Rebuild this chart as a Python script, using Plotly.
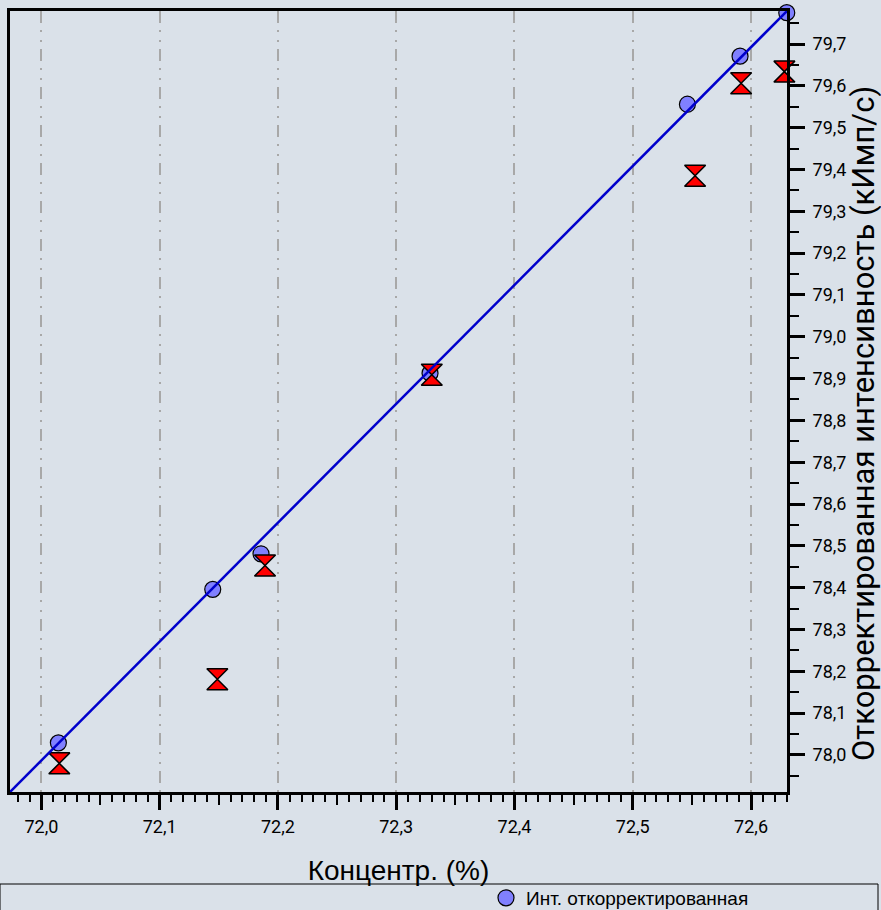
import plotly.graph_objects as go

# ---- data ----
conc_corr = [72.0144, 72.1449, 72.1857, 72.3286, 72.5462, 72.5907, 72.6302]
int_corr = [78.029, 78.396, 78.481, 78.913, 79.556, 79.671, 79.775]

conc_meas = [72.0152, 72.1488, 72.1891, 72.3301, 72.5527, 72.5916, 72.6282]
int_meas = [77.980, 78.181, 78.453, 78.909, 79.385, 79.606, 79.634]

fit_x = [71.9735, 72.6304]
fit_y = [77.9115, 79.7789]

x_title = "Концентр. (%)"
y_title = "Откорректированная интенсивность (кИмп/с)"
legend_corr = "Инт. откорректированная"
legend_meas = "Инт. измеренная"

BG = "#dae1e9"
X_RANGE = [71.9735, 72.6304]
Y_RANGE = [77.9115, 79.7789]

fig = go.Figure()

fig.add_trace(go.Scatter(
    x=conc_corr, y=int_corr, mode="markers", name=legend_corr,
    marker=dict(symbol="circle", size=16, color="#8080ff",
                line=dict(color="black", width=1.2)),
    showlegend=True, cliponaxis=False,
))
fig.add_trace(go.Scatter(
    x=conc_meas, y=int_meas, mode="markers", name=legend_meas,
    marker=dict(symbol="hourglass", size=21, color="#ff0000",
                line=dict(color="black", width=1.5)),
    showlegend=False, cliponaxis=False,
))
fig.add_trace(go.Scatter(
    x=fit_x, y=fit_y, mode="lines", name="fit",
    line=dict(color="#0000cc", width=2.5),
    showlegend=False, cliponaxis=False,
))
# helper axis for medium ticks
fig.add_trace(go.Scatter(x=[], y=[], xaxis="x2", showlegend=False, hoverinfo="skip"))

tickfont = dict(family="Roboto, Arial, sans-serif", size=18, color="black")

fig.update_layout(
    width=881, height=910,
    paper_bgcolor=BG, plot_bgcolor=BG,
    margin=dict(l=10, r=94, t=11, b=118, autoexpand=False),
    separators=", ",
    showlegend=True,
    legend=dict(
        x=(486 - 10) / 777, xanchor="left",
        y=(792 - 879) / 781, yanchor="top",
        bgcolor="rgba(0,0,0,0)", borderwidth=0,
        font=dict(family="Liberation Sans Narrow, Arial Narrow, Liberation Sans, Arial",
                  size=19, color="black"),
        itemsizing="trace",
    ),
    xaxis=dict(
        range=X_RANGE, side="bottom",
        tick0=72.0, dtick=0.1, tickformat=".1f",
        ticks="outside", ticklen=15, tickwidth=2.5, tickcolor="black",
        ticklabelstandoff=1,
        showline=True, linewidth=3, linecolor="black", mirror=True,
        showgrid=True, gridcolor="#a8a8a8", gridwidth=1.5,
        griddash="12px,7px,2px,8px,2px,7px",
        zeroline=False,
        tickfont=tickfont,
        title=dict(text=x_title, standoff=25,
                   font=dict(family="Liberation Sans, Arial, sans-serif", size=28, color="black")),
        minor=dict(dtick=0.01, tick0=72.0, ticks="outside", ticklen=7,
                   tickwidth=2, tickcolor="black", showgrid=False),
    ),
    xaxis2=dict(
        range=X_RANGE, overlaying="x", side="bottom", matches="x",
        tickvals=[72.05, 72.15, 72.25, 72.35, 72.45, 72.55],
        ticks="outside", ticklen=12, tickwidth=2, tickcolor="black",
        showticklabels=False, showgrid=False, showline=False, zeroline=False,
    ),
    yaxis=dict(
        range=Y_RANGE, side="right",
        tick0=78.0, dtick=0.1, tickformat=".1f",
        ticks="outside", ticklen=15, tickwidth=2.5, tickcolor="black",
        ticklabelstandoff=4,
        showline=True, linewidth=3, linecolor="black", mirror=True,
        showgrid=False, zeroline=False,
        tickfont=tickfont,
        minor=dict(dtick=0.05, tick0=78.0, ticks="outside", ticklen=9,
                   tickwidth=2, tickcolor="black", showgrid=False),
    ),
    annotations=[dict(
        text=y_title, textangle=-90, showarrow=False,
        xref="paper", yref="paper",
        x=(864 - 10) / 777, y=(792 - 424) / 781,
        xanchor="center", yanchor="middle",
        font=dict(family="Roboto, Arial, sans-serif", size=31, color="black"),
    )],
    shapes=[dict(
        type="rect", xref="paper", yref="paper",
        x0=(0 - 10) / 777, x1=(878 - 10) / 777,
        y0=(792 - 884) / 781, y1=(792 - 960) / 781,
        line=dict(color="black", width=1), fillcolor="rgba(0,0,0,0)",
        layer="below",
    )],
)

fig.write_html(
    "out.html",
    config={"displayModeBar": False},
    post_script="document.body.style.margin='0';document.body.style.overflow='hidden';",
)
